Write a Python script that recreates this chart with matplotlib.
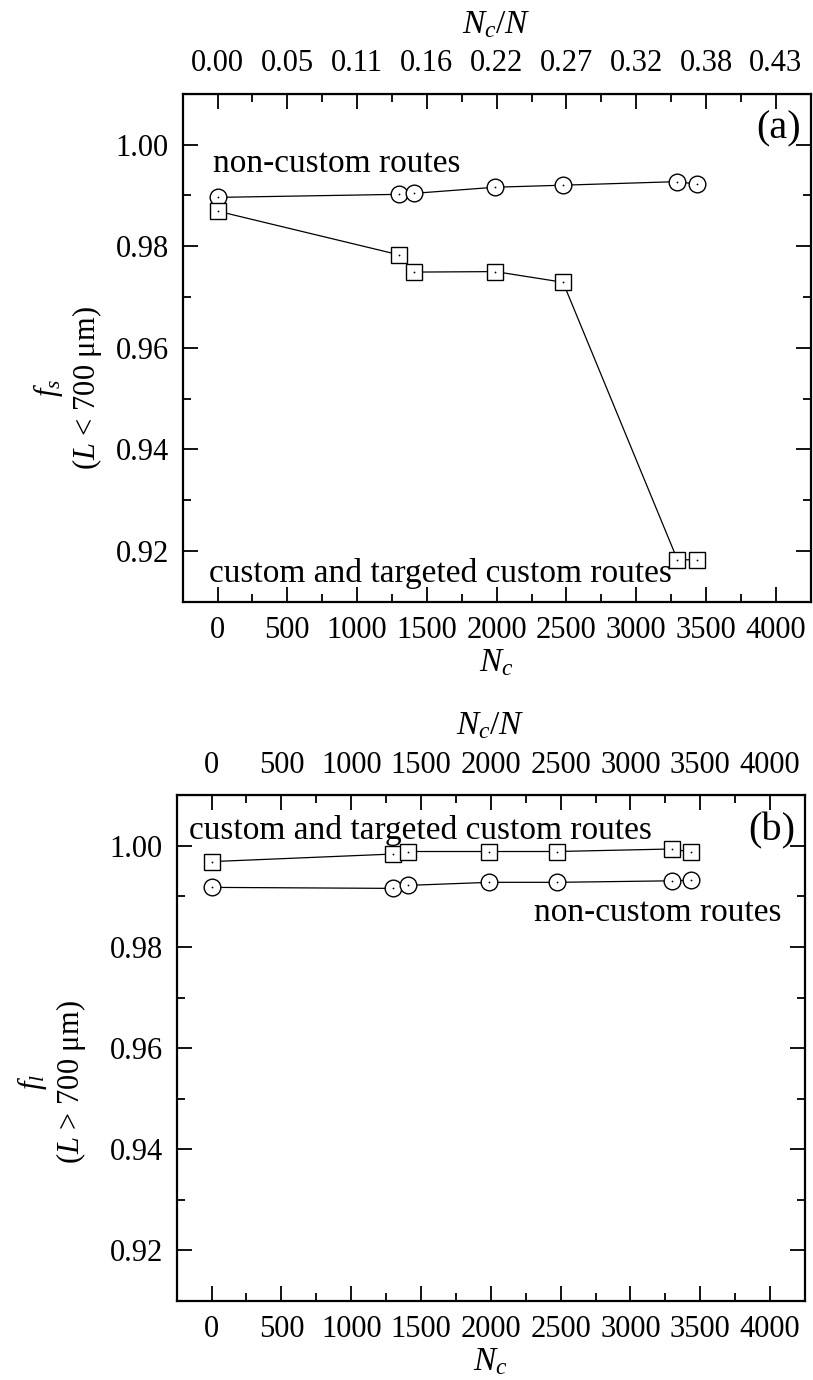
#!/usr/bin/env python3
"""Fraction of routes vs number of custom routes, two stacked panels."""

import matplotlib
matplotlib.use("Agg")
import matplotlib.pyplot as plt

plt.rcParams['font.family'] = ['Liberation Serif', 'DejaVu Serif']
plt.rcParams['mathtext.fontset'] = 'custom'
plt.rcParams['mathtext.rm'] = 'Liberation Serif'
plt.rcParams['mathtext.it'] = 'Liberation Serif:italic'

# data
nc = [0, 1300, 1410, 1990, 2475, 3295, 3435]

a_noncustom = [0.9896, 0.9902, 0.9904, 0.9916, 0.9920, 0.9927, 0.9922]
a_custom = [0.9869, 0.9783, 0.9749, 0.9750, 0.9729, 0.9183, 0.9183]

b_custom = [0.9969, 0.9984, 0.9989, 0.9989, 0.9989, 0.9994, 0.9988]
b_noncustom = [0.9918, 0.9916, 0.9922, 0.9928, 0.9928, 0.9931, 0.9932]

x_ticks = [0, 500, 1000, 1500, 2000, 2500, 3000, 3500, 4000]
top_labels_a = ['0.00', '0.05', '0.11', '0.16', '0.22', '0.27', '0.32', '0.38', '0.43']
top_labels_b = ['0', '500', '1000', '1500', '2000', '2500', '3000', '3500', '4000']
y_ticks = [0.92, 0.94, 0.96, 0.98, 1.00]

FS = 22      # tick labels
TFS = 24     # curve labels

fig = plt.figure(figsize=(8.13, 13.8), dpi=100)
ax1 = fig.add_axes([0.2247, 0.5638, 0.7725, 0.3683])
ax2 = fig.add_axes([0.2173, 0.0575, 0.7728, 0.3661])


def series(ax, x, y, marker, ms):
    ax.plot(x, y, '-', color='black', lw=0.9, marker=marker, ms=ms,
            mfc='white', mec='black', mew=1.0, zorder=3)
    ax.plot(x, y, 'o', color='black', ms=1.3, mew=0, zorder=4)


def style(ax, top_labels):
    ax.set_xlim(-250, 4250)
    ax.set_ylim(0.91, 1.01)
    ax.set_xticks(x_ticks)
    ax.set_xticks(range(-250, 4251, 250)[1:-1], minor=True)
    ax.set_yticks(y_ticks)
    ax.set_yticklabels([f'{v:.2f}' for v in y_ticks])
    ax.set_yticks([0.91 + 0.01 * i for i in range(1, 10)], minor=True)
    ax.tick_params(which='both', direction='in', top=True, right=True,
                   labelsize=FS, width=1.3, pad=10)
    ax.tick_params(which='major', length=11)
    ax.tick_params(which='minor', length=6)
    for s in ax.spines.values():
        s.set_linewidth(1.6)
    sec = ax.secondary_xaxis('top')
    sec.set_xticks(x_ticks, top_labels)
    sec.tick_params(direction='in', length=0, labelsize=FS, pad=11)
    sec.set_xlabel(r'$N_c/N$', fontsize=TFS, labelpad=12)
    ax.set_xlabel(r'$N_c$', fontsize=TFS, labelpad=2)


# panel (a)
series(ax1, nc, a_noncustom, 'o', 12)
series(ax1, nc, a_custom, 's', 11)
style(ax1, top_labels_a)
ax1.text(-30, 0.9963, 'non-custom routes', fontsize=TFS, va='center', ha='left')
ax1.text(-60, 0.9156, 'custom and targeted custom routes', fontsize=TFS,
         va='center', ha='left')
ax1.text(0.985, 0.93, '(a)', transform=ax1.transAxes, fontsize=29,
         ha='right', va='center')
ax1.text(-0.183, 0.421, '$f_s$\n($L$ < 700 μm)', transform=ax1.transAxes,
         rotation=90, fontsize=FS, ha='center', va='center',
         multialignment='center')

# panel (b)
series(ax2, nc, b_custom, 's', 11)
series(ax2, nc, b_noncustom, 'o', 12)
style(ax2, top_labels_b)
ax2.text(-160, 1.0031, 'custom and targeted custom routes', fontsize=TFS,
         va='center', ha='left', zorder=5)
ax2.text(2310, 0.9868, 'non-custom routes', fontsize=TFS, va='center', ha='left')
ax2.text(0.985, 0.93, '(b)', transform=ax2.transAxes, fontsize=29,
         ha='right', va='center')
ax2.text(-0.199, 0.433, '$f_l$\n($L$ > 700 μm)', transform=ax2.transAxes,
         rotation=90, fontsize=FS, ha='center', va='center',
         multialignment='center')

fig.savefig('out.png', dpi=100)
